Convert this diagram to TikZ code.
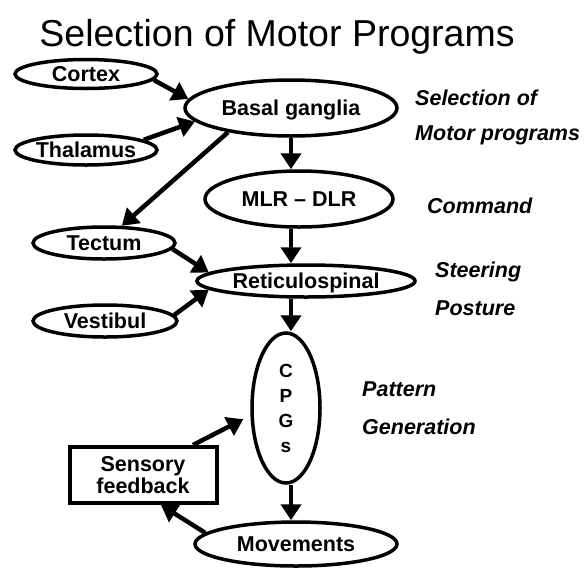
\documentclass[tikz,border=0pt]{standalone}
\usepackage{fontspec}
\setmainfont{Liberation Sans}
\usetikzlibrary{arrows.meta,shapes.geometric,calc}
\begin{document}
\begin{tikzpicture}[x=1pt,y=-1pt,
  ell/.style={ellipse,draw,line width=3.5pt,inner sep=0pt,
    font=\fontsize{21.5}{24}\selectfont\bfseries,text height=15.5pt,text depth=0pt},
  arr/.style={line width=4.5pt,-{Triangle[length=16pt,width=20pt]}},
  lab/.style={anchor=base west,inner sep=0pt,font=\fontsize{21.5}{24}\selectfont\bfseries\itshape}]
\useasboundingbox (0,0) rectangle (585,568);
\fill[white] (0,0) rectangle (585,568);
\node[font=\fontsize{37.5}{40}\selectfont,inner sep=0pt] (title) at (277,37) {Selection of Motor Programs};
\node[ell,minimum width=142pt,minimum height=29pt] (cortex) at (86,74) {Cortex};
\node[ell,minimum width=142pt,minimum height=30pt] (thal) at (86,150) {Thalamus};
\node[ell,minimum width=212pt,minimum height=56pt] (basal) at (291,108) {Basal ganglia};
\node[ell,minimum width=188pt,minimum height=56pt] (mlr) at (299,199) {MLR -- DLR};
\node[ell,minimum width=142pt,minimum height=32pt] (tect) at (104,243) {Tectum};
\node[ell,minimum width=218pt,minimum height=32pt] (reti) at (306,281) {Reticulospinal};
\node[ell,minimum width=144pt,minimum height=32pt] (vest) at (105,321) {Vestibul};
\node[ellipse,draw,line width=3.5pt,inner sep=0pt,minimum width=68pt,minimum height=150pt,
  align=center,font=\fontsize{19}{25}\selectfont\bfseries] (cpg) at (286,408) {C\\P\\G\\s};
\node[ell,minimum width=202pt,minimum height=44pt] (mov) at (296,544) {Movements};
\node[draw,line width=4pt,minimum width=147pt,minimum height=56pt,align=center,inner sep=0pt,
  font=\fontsize{21.5}{22}\selectfont\bfseries] (sens) at (143,475) {Sensory\\feedback};
\node[lab] (l1) at (415,105) {Selection of};
\node[lab] (l2) at (415,140) {Motor programs};
\node[lab] (l3) at (427,213) {Command};
\node[lab] (l4) at (435,277) {Steering};
\node[lab] (l5) at (435,315) {Posture};
\node[lab] (l6) at (362,396) {Pattern};
\node[lab] (l7) at (362,434) {Generation};
% arrows
\draw[arr] (cortex.-5) -- (basal.175);
\draw[arr] (thal.10) -- (basal.188);
\draw[arr] (basal.201) -- (tect.44);
\draw[arr] (tect.-5) -- (reti.175.5);
\draw[arr] (vest.5) -- (reti.185);
\draw[arr] (basal.south) -- (basal.south |- mlr.north);
\draw[arr] (mlr.south -| basal.south) -- (basal.south |- reti.north);
\draw[arr] (reti.south -| basal.south) -- (basal.south |- cpg.north);
\draw[arr] (cpg.south -| basal.south) -- (basal.south |- mov.north);
\draw[arr,shorten >=8pt] (sens.31) -- (cpg.192);
\draw[arr] (mov.173) -- (sens.-59);
\end{tikzpicture}
\end{document}
